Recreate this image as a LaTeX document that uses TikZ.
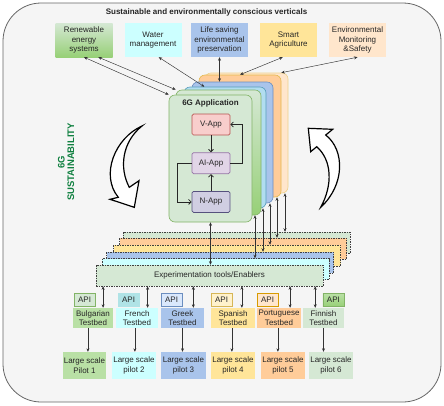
\documentclass[tikz,border=0pt]{standalone}
\usepackage{fontspec}
\setmainfont{Liberation Sans}
\usepackage{xcolor}
\usepackage{tikz}
\usetikzlibrary{arrows.meta, calc, positioning}
\definecolor{frameBg}{RGB}{245,245,245}
\definecolor{frameLn}{RGB}{102,102,102}
\definecolor{grLt}{RGB}{213,232,212}
\definecolor{grMd}{RGB}{185,224,165}
\definecolor{grDk}{RGB}{151,208,119}
\definecolor{grLn}{RGB}{130,179,102}
\definecolor{cyLt}{RGB}{204,255,255}
\definecolor{cyMd}{RGB}{177,221,240}
\definecolor{cyLn}{RGB}{16,115,158}
\definecolor{tlApi}{RGB}{176,227,230}
\definecolor{blMd}{RGB}{169,196,235}
\definecolor{blLt}{RGB}{218,232,252}
\definecolor{blLn}{RGB}{108,142,191}
\definecolor{ylMd}{RGB}{255,229,153}
\definecolor{ylLt}{RGB}{255,242,204}
\definecolor{ylLn}{RGB}{214,182,86}
\definecolor{orMd}{RGB}{255,204,153}
\definecolor{orLt}{RGB}{255,230,204}
\definecolor{orLn}{RGB}{215,155,0}
\definecolor{rdLt}{RGB}{248,206,204}
\definecolor{rdLn}{RGB}{184,84,80}
\definecolor{puLt}{RGB}{225,213,231}
\definecolor{puLn}{RGB}{150,115,166}
\definecolor{pvLt}{RGB}{208,206,226}
\definecolor{pvLn}{RGB}{86,81,126}
\definecolor{susGr}{RGB}{16,128,64}
\newcommand{\figfont}{\fontsize{8}{9.6}\selectfont}
\tikzset{
  lbl/.style={font=\figfont, text=black!85, align=center, inner sep=0pt},
  vbox/.style={lbl, minimum width=57pt, minimum height=34pt},
  card/.style={draw, rounded corners=6pt, line width=0.6pt, inner sep=0pt},
  layer/.style={draw=black!75, dash pattern=on 1.5pt off 1pt, line width=0.5pt,
    minimum width=227pt, minimum height=21pt},
  app/.style={lbl, draw, line width=0.7pt, minimum width=38pt, minimum height=21pt, rounded corners=1.5pt},
  tbed/.style={lbl, minimum height=20pt},
  api/.style={lbl, draw, line width=0.6pt, minimum width=21pt, minimum height=13pt},
  pilot/.style={lbl, minimum height=27pt},
  biarr/.style={{Stealth[length=3.5pt,width=3pt]}-{Stealth[length=3.5pt,width=3pt]}, line width=0.45pt, draw=black!80},
  dnarr/.style={-{Stealth[length=3.5pt,width=3pt]}, line width=0.55pt, draw=black!80},
  looparr/.style={-{Straight Barb[length=2.5pt,width=5pt]}, line width=0.8pt, draw=black!85},
  hollow/.style={draw=black, fill=white, line width=1.2pt, line join=miter}
}

\begin{document}
\begin{tikzpicture}[x=1pt, y=-1pt]
\useasboundingbox (0,0) rectangle (444,405);
% outer frame
\draw[draw=frameLn, fill=frameBg, line width=0.8pt, rounded corners=38pt] (3,3) rectangle (441,402);
\node[lbl, font=\figfont\bfseries] (title) at (206.5,12) {Sustainable and environmentally conscious verticals};
% verticals
\node[vbox, top color=grLt, bottom color=grDk] (ren) at (84,40) {Renewable\\energy\\systems};
\node[vbox, fill=cyLt] (wat) at (153,40) {Water\\management};
\node[vbox, fill=blMd] (life) at (219.5,40) {Life saving\\environmental\\preservation};
\node[vbox, fill=ylMd] (agri) at (288.5,40) {Smart\\Agriculture};
\node[vbox, fill=orLt] (envm) at (357.5,40) {Environmental\\Monitoring\\\&Safety};
% stack of application cards, back to front
\node[card, draw=orLn!45, fill=orLt, minimum width=83pt, minimum height=120pt] (card5) at (246.5,133) {};
\node[card, draw=orLn!70, fill=orMd, minimum width=82pt, minimum height=122pt] (card4) at (240,136) {};
\node[card, draw=blLn, fill=blMd, minimum width=81pt, minimum height=121pt] (card3) at (232.5,142.5) {};
\node[card, draw=cyLn!70, fill=cyMd, minimum width=82pt, minimum height=121pt] (card2) at (225,147.5) {};
\node[card, draw=grLn, top color=grLt, bottom color=grDk, minimum width=85pt, minimum height=125pt] (card1) at (218.5,152.5) {};
\node[card, draw=grLn, fill=grLt, minimum width=83pt, minimum height=127pt] (card0) at (210.5,158.5) {};
\node[lbl, font=\figfont\bfseries, below=5pt of card0.north] (apptitle) {6G Application};
% apps inside the front card
\node[app, draw=rdLn, fill=rdLt] (vapp) at (211,124.5) {V-App};
\node[app, draw=puLn, fill=puLt, below=17pt of vapp] (aiapp) {AI-App};
\node[app, draw=pvLn, fill=pvLt, below=17pt of aiapp] (napp) {N-App};
\draw[looparr] (vapp) -- (aiapp);
\draw[looparr] (napp) -- (aiapp);
\draw[looparr] (aiapp.east) -- ++(12,0) |- (vapp.east);
\draw[looparr] (aiapp.west) -- ++(-14,0) |- (napp.west);
% verticals to cards
\draw[biarr] (ren.south) -- (card0.north west);
\draw[biarr] ($(ren.south)!0.5!(ren.south east)$) -- (card1.north west);
\draw[biarr] ($(wat.south)!0.2!(wat.south east)$) -- ($(card2.north west)!0.25!(card2.north east)$);
\draw[biarr] (life.south) -- (life.south |- card3.north);
\draw[biarr] ($(agri.south)!0.2!(agri.south west)$) -- (card4.north);
\draw[biarr] (envm.south) -- (card5.60);
% sustainability cycle
\node[lbl, font=\fontsize{9.5}{9.5}\selectfont\bfseries, text=susGr, rotate=90] (sust) at (66,162) {6G\\SUSTAINABILITY};
\draw[hollow] (142,126) .. controls (115,138) and (100,175) .. (118.3,197.3) -- (110,199.3) -- (134.3,207.3)
  -- (139,180.7) -- (129.3,187.3) .. controls (119,168) and (122,142) .. (142,126) -- cycle;
\draw[hollow] (308.3,128.3) -- (332.7,129.3) -- (325.7,135) .. controls (345,150) and (345,185) .. (320.7,207.3)
  .. controls (333,185) and (332,160) .. (316.7,146.7) -- (310.7,151.7) -- cycle;
% experimentation layers, back to front
\foreach \n/\c/\x/\y in {5/grLt/236.5/242.5, 4/orMd/233/248.5, 3/ylMd/227/255.5, 2/blMd/220/262.5, 1/cyLt/215.5/269}
  \node[layer, fill=\c] (lay\n) at (\x,\y) {};
\node[lbl, layer, fill=grLt] (lay0) at (209.5,275.5) {Experimentation tools/Enablers};
% cards to layers
\draw[biarr] (card0.south) -- (card0.south |- lay0.north);
\foreach \i/\x in {1/255, 2/263, 3/270, 4/277, 5/285} {
  \coordinate (drop\i) at (\x,0);
  \draw[biarr] (card\i.south -| drop\i) -- (lay\i.north -| drop\i);
}
% testbeds
\foreach \i/\x/\w/\c/\t in {1/93/40/grMd/Bulgarian, 2/137/42/cyLt/French, 3/182.5/43/blMd/Greek,
    4/233/44/ylMd/Spanish, 5/279/44/orMd/Portuguese, 6/323.5/41/grLt/Finnish}
  \node[tbed, fill=\c, minimum width={\w pt}] (tb\i) at (\x,318) {\t\\Testbed};
% pilots
\foreach \i/\x/\w/\c/\t in {1/84.5/43/grMd/Pilot 1, 2/134/44/cyLt/pilot 2, 3/183.5/45/blMd/pilot 3,
    4/233/44/ylMd/pilot 4, 5/283/44/orMd/pilot 5, 6/331/44/grLt/pilot 6}
  \node[pilot, fill=\c, minimum width={\w pt}] (p\i) at (\x,365.5) {Large scale\\\t};
% API tags
\node[api, draw=grLn, fill=grLt, above right=1pt and 1pt of tb1.north west] (api1) {API};
\node[api, draw=tlApi, fill=tlApi, above right=1pt and 2pt of tb2.north west] (api2) {API};
\node[api, draw=blLn, fill=blLt, above right=1pt and 0pt of tb3.north west] (api3) {API};
\node[api, draw=ylLn, fill=ylLt, above right=1pt and 0pt of tb4.north west] (api4) {API};
\node[api, draw=orLn, fill=orLt, above right=1pt and 0pt of tb5.north west] (api5) {API};
\node[api, draw=grLn, top color=grMd, bottom color=grDk, above left=1pt and 0pt of tb6.north east] (api6) {API};
% enablers to testbeds, testbeds to pilots
\foreach \i/\f/\g in {1/0.5/0.25, 2/0.5/0.1, 3/0.5/0, 4/0.4/0.05, 5/0.5/0.05, 6/-0.4/0} {
  \coordinate (tbtop\i) at ($(tb\i.north)!\f!(tb\i.north east)$);
  \draw[biarr] (lay0.south -| tbtop\i) -- (tbtop\i);
  \coordinate (tbbot\i) at ($(tb\i.south)!\g!(tb\i.south west)$);
  \draw[dnarr] (tbbot\i) -- (tbbot\i |- p\i.north);
}
\end{tikzpicture}
\end{document}
